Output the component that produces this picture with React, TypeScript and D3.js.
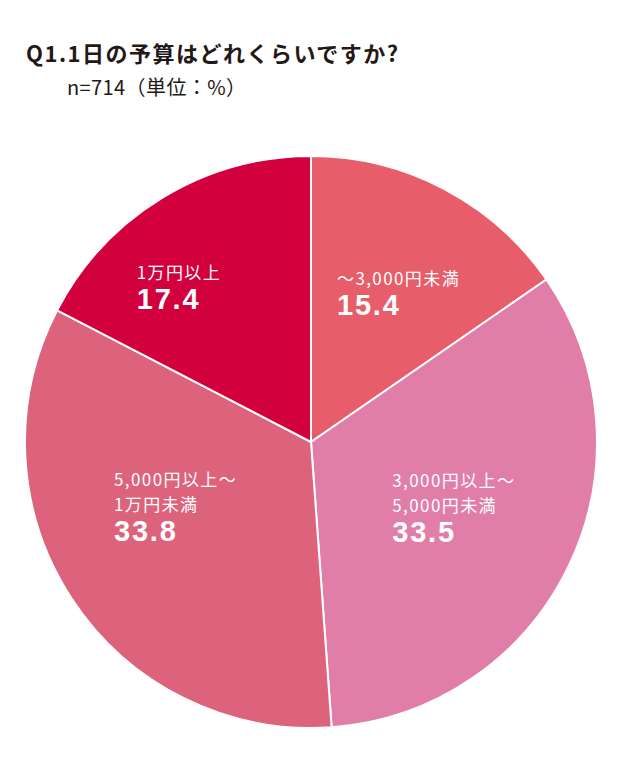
import * as d3 from "d3";
import React from "react";

// slices clockwise from 12 o'clock
const categories = ["～3,000円未満", "3,000円以上～5,000円未満", "5,000円以上～1万円未満", "1万円以上"];
const values = [15.4, 33.5, 33.8, 17.4];
const labelLines = [["～3,000円未満"], ["3,000円以上～", "5,000円未満"], ["5,000円以上～", "1万円未満"], ["1万円以上"]];
const sliceColors = ["#e75d69", "#e07ea8", "#dc637b", "#d2003c"];

const title = "Q1.1日の予算はどれくらいですか?";
const subtitle = "n=714（単位：%）";

const jpFont = "'Noto Sans CJK JP', 'Noto Sans', sans-serif";
const numFont = "'Liberation Sans', Arial, sans-serif";

export default function App() {
  const width = 640;
  const height = 763;
  const cx = 311;
  const cy = 442;
  const radius = 286;

  const pie = d3
    .pie<number>()
    .sort(null)
    .value((d) => d);
  const arcs = pie(values);

  const arc = d3.arc<d3.PieArcDatum<number>>().innerRadius(0).outerRadius(radius);
  const labelArc = d3
    .arc<d3.PieArcDatum<number>>()
    .innerRadius(170)
    .outerRadius(170);

  // nudges from the centroid to the left edge / first baseline of each label block
  const nudges = [
    [-53, -6],
    [-72, -29],
    [-55, -49],
    [-86, -18],
  ];

  return (
    <svg
      width={width}
      height={height}
      style={{ position: "absolute", left: 0, top: 0, background: "#fff" }}
    >
      <text x={26} y={62} fontFamily={jpFont} fontWeight={700} fontSize={22} fill="#231815" textLength={372} lengthAdjust="spacing">
        {title}
      </text>
      <text x={67} y={95} fontFamily={jpFont} fontSize={20} fill="#231815" textLength={179} lengthAdjust="spacing">
        {subtitle}
      </text>

      <g transform={`translate(${cx},${cy})`}>
        {arcs.map((a, i) => (
          <path key={categories[i]} d={arc(a) ?? ""} fill={sliceColors[i]} stroke="#fff" strokeWidth={2} />
        ))}
        {arcs.map((a, i) => {
          const [x, y] = labelArc.centroid(a);
          const x0 = x + nudges[i][0];
          const y0 = y + nudges[i][1];
          const lines = labelLines[i];
          return (
            <g key={`lbl-${i}`} fill="#fff">
              {lines.map((ln, j) => (
                <text key={ln} x={x0} y={y0 + j * 25} fontFamily={jpFont} fontSize={17} letterSpacing={1.4}>
                  {ln}
                </text>
              ))}
              <text
                x={x0}
                y={y0 + (lines.length - 1) * 25 + 30}
                fontFamily={numFont}
                fontWeight={700}
                fontSize={29}
                letterSpacing={1.8}
              >
                {values[i].toFixed(1)}
              </text>
            </g>
          );
        })}
      </g>
    </svg>
  );
}
